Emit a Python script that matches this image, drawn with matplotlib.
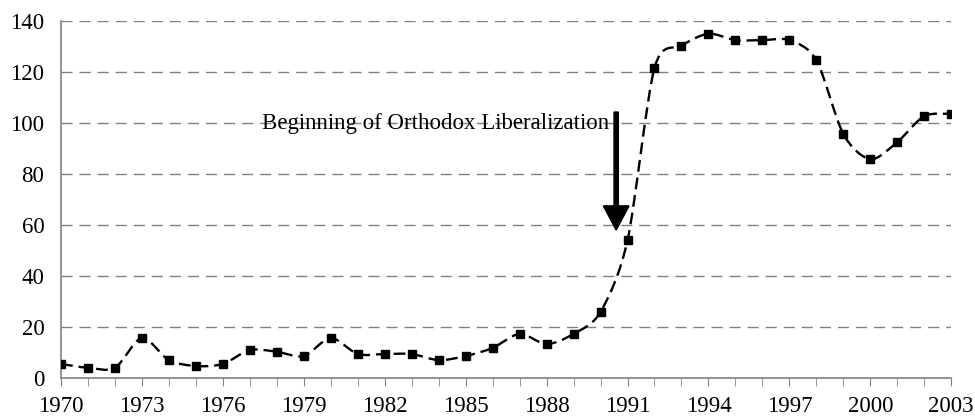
import numpy as np
import matplotlib.pyplot as plt
from matplotlib.path import Path
from matplotlib.patches import PathPatch, FancyArrow

plt.rcParams['font.family'] = ['Liberation Serif', 'DejaVu Serif']

years = list(range(1970, 2004))
values = [5.5, 4, 4, 15.7, 7, 4.7, 5.5, 11, 10.3, 8.6,
          15.7, 9.4, 9.4, 9.4, 7, 8.6, 11.8, 17.3, 13.3, 17.3,
          25.9, 54, 121.6, 130.3, 135, 132.5, 132.5, 132.5, 124.7, 95.7,
          85.8, 92.5, 102.7, 103.6]
tick_years = list(range(1970, 2004, 3))
label = 'Beginning of Orthodox Liberalization'

fig = plt.figure(figsize=(9.75, 4.2), dpi=100)
ax = fig.add_axes([0.0626, 0.1, 0.913, 0.85])

# smoothed line like a spreadsheet "smooth line": cubic bezier segments
x = np.array(years, dtype=float)
y = np.array(values, dtype=float)
verts = [(x[0], y[0])]
codes = [Path.MOVETO]
n = len(x)
k = 1 / 7
for i in range(n - 1):
    x0, y0 = (x[i - 1], y[i - 1]) if i > 0 else (x[i], y[i])
    x3, y3 = (x[i + 2], y[i + 2]) if i + 2 < n else (x[i + 1], y[i + 1])
    c1 = (x[i] + (x[i + 1] - x0) * k, y[i] + (y[i + 1] - y0) * k)
    c2 = (x[i + 1] - (x3 - x[i]) * k, y[i + 1] - (y3 - y[i]) * k)
    verts += [c1, c2, (x[i + 1], y[i + 1])]
    codes += [Path.CURVE4] * 3
ax.add_patch(PathPatch(Path(verts, codes), fill=False, edgecolor='black',
                       lw=1.7, linestyle=(0, (5, 2.5)), zorder=3))
ax.plot(years, values, linestyle='none', marker='s', markersize=6,
        color='black', zorder=4)

ax.set_xlim(1970, 2003)
ax.set_ylim(0, 140)
ax.set_yticks(range(0, 141, 20))
ax.set_xticks(tick_years)
ax.set_xticks(years, minor=True)
ax.tick_params(axis='both', labelsize=16.5, colors='black')
ax.tick_params(axis='y', length=0, pad=12)
ax.tick_params(axis='x', which='both', direction='out', length=6,
               color='#808080', pad=7)
for yy in range(20, 141, 20):
    ax.axhline(yy, color='#808080', lw=1, linestyle=(0, (8, 5)), zorder=1)
for s in ['top', 'right']:
    ax.spines[s].set_visible(False)
for s in ['left', 'bottom']:
    ax.spines[s].set_color('#808080')
    ax.spines[s].set_linewidth(1.2)

ax.text(1990.3, 100.0, label, ha='right', va='center', fontsize=16.5, zorder=5)
ax.add_patch(FancyArrow(1990.58, 104.3, 0, -46.3, width=0.16, head_width=0.95,
                        head_length=9.5, length_includes_head=True,
                        color='black', zorder=5))

fig.savefig('out.png', dpi=100)
